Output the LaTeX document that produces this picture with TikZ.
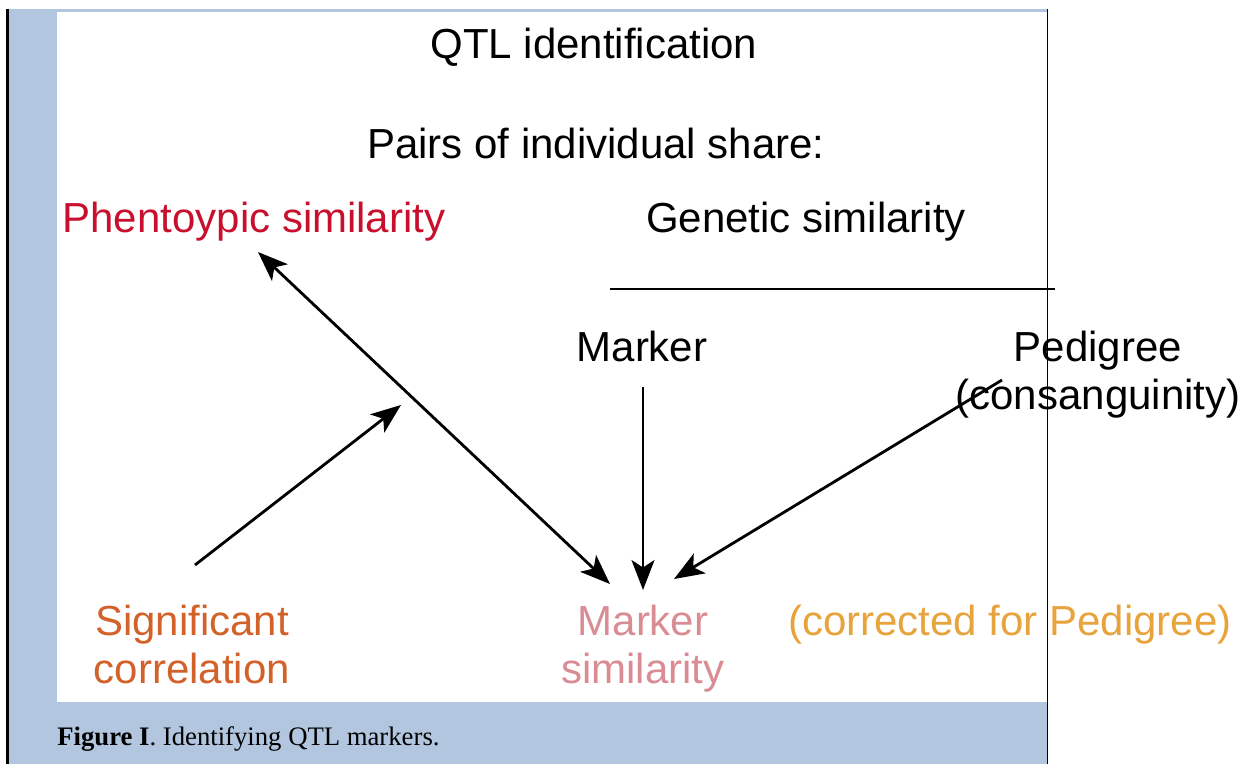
\documentclass[tikz,border=0pt]{standalone}
\usepackage{fontspec}
\setmainfont{Liberation Serif}
\newfontfamily\diagfont{Liberation Sans}
\usetikzlibrary{arrows.meta}
\definecolor{frameblue}{RGB}{179,198,223}
\definecolor{phenored}{RGB}{200,16,46}
\definecolor{corrorange}{RGB}{210,98,42}
\definecolor{simpink}{RGB}{217,140,148}
\definecolor{pedorange}{RGB}{232,163,60}

\begin{document}
\begin{tikzpicture}[x=0.02cm, y=-0.02cm,
        txt/.style={font=\diagfont\fontsize{23.9}{27.3}\selectfont, inner sep=0pt, anchor=base, align=center},
        arrow/.style={-{Stealth[length=0.6cm, width=0.46cm, inset=0.15cm]}, line width=1.6pt},
        twoarrow/.style={{Stealth[length=0.6cm, width=0.46cm, inset=0.15cm]}-{Stealth[length=0.6cm, width=0.46cm, inset=0.15cm]}, line width=1.6pt},
        rule/.style={line width=1.2pt},
      ]
      \useasboundingbox (0,0) rectangle (1243,764);
      % frame
      \fill [frameblue] (8,9) rectangle (1047,702);
      \fill [white] (57,12) rectangle (1047,702);
      \fill [frameblue] (8,702) rectangle (1047,764);
      \node [font=\fontsize{15.2}{18}\selectfont, inner sep=0pt, anchor=base west] (caption) at (57,745) {\textbf{Figure I}. Identifying QTL markers.};
      % texts
      \node [txt] (title) at (594,58) {QTL identification};
      \node [txt] (pairs) at (596,158) {Pairs of individual share:};
      \node [txt, text=phenored] (pheno) at (254,232) {Phentoypic similarity};
      \node [txt] (genetic) at (806,232) {Genetic similarity};
      \node [txt] (marker) at (642,361) {Marker};
      \node [txt] (pedigree) at (1098,409) {Pedigree\\(consanguinity)};
      \node [txt, text=corrorange] (signif) at (192,683) {Significant\\correlation};
      \node [txt, text=simpink] (markersim) at (643,683) {Marker\\similarity};
      \node [txt, text=pedorange] (corrected) at (1010,635) {(corrected for Pedigree)};
      \draw [rule] (610,289) -- (1055,289);
      % arrows
      \coordinate (phenoTip) at (258,252);
      \coordinate (simLeft) at (610,584);
      \coordinate (signifStart) at (195,565);
      \coordinate (signifTip) at (401,405);
      \coordinate (markerStart) at (643,387);
      \coordinate (simMid) at (643,590);
      \coordinate (pedStart) at (1002,380);
      \coordinate (simRight) at (674,579);
      \draw [twoarrow] (simLeft) -- (phenoTip);
      \draw [arrow] (signifStart) -- (signifTip);
      \draw [arrow, line width=1.1pt] (markerStart) -- (simMid);
      \draw [arrow] (pedStart) -- (simRight);
      % frame lines
      \draw [line width=1.2pt] (7.5,9) -- (7.5,764);
      \draw [line width=0.9pt] (1047.5,9) -- (1047.5,764);
    \end{tikzpicture}
\end{document}
